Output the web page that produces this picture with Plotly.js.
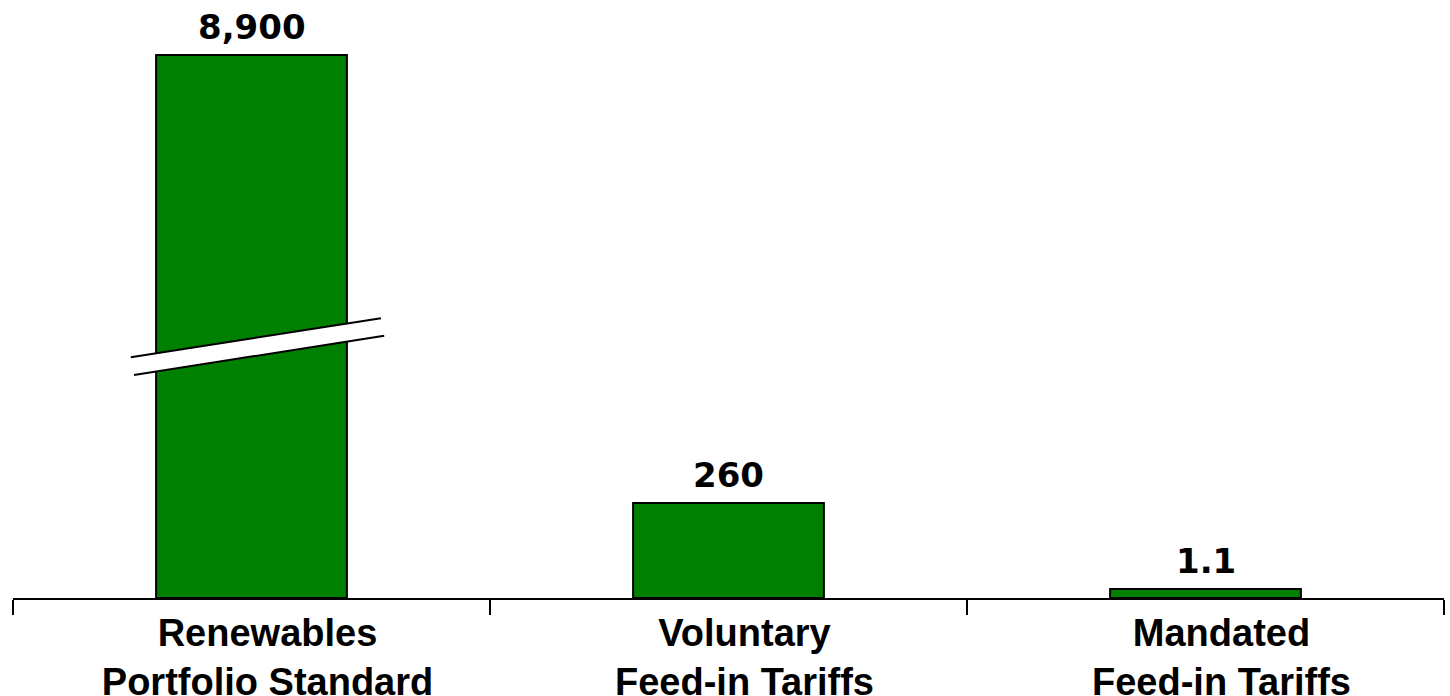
<!DOCTYPE html>
<html>
<head>
<meta charset="utf-8">
<script src="https://cdn.plot.ly/plotly-3.0.1.min.js"></script>
<style>html,body{margin:0;padding:0;background:#fff;}#chart{width:1450px;height:696px;}</style>
</head>
<body>
<div id="chart"></div>
<script>
// Data
var categories = ["Renewables<br>Portfolio Standard", "Voluntary<br>Feed-in Tariffs", "Mandated<br>Feed-in Tariffs"];
var values = [8900, 260, 1.1];
var labels = ["8,900", "260", "1.1"];

var green = "#008000";
var axisNames = ["y2", "y", "y3"]; // bar 1 on a broken (own) scale, small bar given visible minimum scale

var traces = categories.map(function (c, i) {
  return {
    type: "bar",
    x: [c],
    y: [values[i]],
    width: 0.4,
    yaxis: axisNames[i],
    marker: { color: green, line: { color: "#000", width: 2 } },
    hoverinfo: "x+y",
    showlegend: false
  };
});

var annotations = categories.map(function (c, i) {
  return {
    xref: "x",
    yref: axisNames[i],
    x: c,
    y: values[i],
    text: labels[i],
    showarrow: false,
    yanchor: "bottom",
    xanchor: "center",
    yshift: 6,
    font: { family: "DejaVu Sans, Verdana, sans-serif", size: 34, color: "#000", weight: "bold" }
  };
});

var layout = {
  width: 1450,
  height: 696,
  margin: { l: 13, r: 6, t: 0, b: 98 },
  paper_bgcolor: "#fff",
  plot_bgcolor: "#fff",
  barmode: "overlay",
  showlegend: false,
  xaxis: {
    type: "category",
    categoryarray: categories,
    categoryorder: "array",
    showline: true,
    linecolor: "#000",
    linewidth: 2,
    ticks: "outside",
    tickson: "boundaries",
    ticklen: 15,
    tickwidth: 2,
    tickcolor: "#000",
    ticklabelshift: 16,
    showgrid: false,
    zeroline: false,
    tickfont: { family: "Liberation Sans, Arial, sans-serif", size: 38, color: "#000", weight: "bold" },
    fixedrange: true
  },
  yaxis: { visible: false, range: [0, 1636.6], fixedrange: true },
  yaxis2: { visible: false, overlaying: "y", range: [0, 9801], fixedrange: true },
  yaxis3: { visible: false, overlaying: "y", range: [0, 73.1], fixedrange: true },
  annotations: annotations,
  shapes: [
    {
      type: "path", xref: "paper", yref: "paper",
      path: "M 0.0823 0.4025 L 0.2571 0.4677 L 0.2594 0.4386 L 0.0846 0.3729 Z",
      fillcolor: "#fff", line: { width: 0 }, layer: "above"
    },
    {
      type: "line", xref: "paper", yref: "paper",
      x0: 0.0823, y0: 0.4025, x1: 0.2571, y1: 0.4677,
      line: { color: "#000", width: 2 }, layer: "above"
    },
    {
      type: "line", xref: "paper", yref: "paper",
      x0: 0.0846, y0: 0.3729, x1: 0.2594, y1: 0.4386,
      line: { color: "#000", width: 2 }, layer: "above"
    }
  ]
};

Plotly.newPlot("chart", traces, layout, { displayModeBar: false, staticPlot: true });
</script>
</body>
</html>
